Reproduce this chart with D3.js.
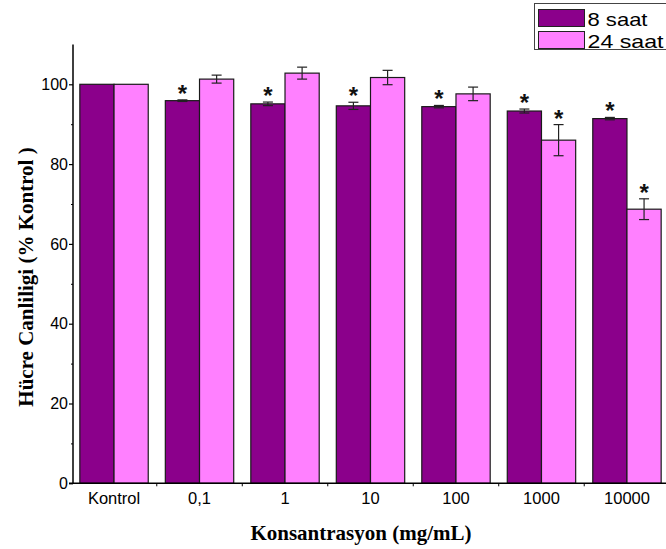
<!DOCTYPE html>
<html>
<head>
<meta charset="utf-8">
<script src="https://cdn.jsdelivr.net/npm/d3@7"></script>
<style>
  html, body { margin: 0; padding: 0; background: #fff; }
  svg { display: block; }
</style>
</head>
<body>
<svg id="chart" width="666" height="549"></svg>
<script>
const categories = ["Kontrol", "0,1", "1", "10", "100", "1000", "10000"];
const series = ["8 saat", "24 saat"];
const values8 = [100, 95.9, 95.1, 94.6, 94.4, 93.3, 91.4];
const errors8 = [0, 0.2, 0.45, 0.9, 0.3, 0.5, 0.3];
const values24 = [100, 101.3, 102.8, 101.7, 97.6, 86.0, 68.7];
const errors24 = [0, 1.0, 1.5, 1.8, 1.7, 3.9, 2.6];
const signif8 = [false, true, true, true, true, true, true];
const signif24 = [false, false, false, false, false, true, true];
const yTicks = [0, 20, 40, 60, 80, 100];
const yMinorTicks = [10, 30, 50, 70, 90];
const colors = ["#8B008B", "#FF80FF"];

const svg = d3.select("#chart");
const x0 = 73, x1 = 668, yTop = 110;
const x = d3.scaleBand().domain(categories).range([x0, x1]).paddingInner(0.2).paddingOuter(0.08);
const xs = d3.scaleBand().domain(series).range([0, x.bandwidth()]);
const y = d3.scaleLinear().domain([0, yTop]).range([483.3, 483.3 - 3.99 * yTop]);

const data = categories.map((c, i) => ({
  cat: c,
  bars: [
    { s: series[0], v: values8[i], e: errors8[i], sig: signif8[i], color: colors[0] },
    { s: series[1], v: values24[i], e: errors24[i], sig: signif24[i], color: colors[1] }
  ]
}));

const g = svg.append("g");
const groups = g.selectAll("g.grp").data(data).join("g")
  .attr("transform", d => `translate(${x(d.cat)},0)`);

groups.selectAll("rect").data(d => d.bars).join("rect")
  .attr("x", b => xs(b.s))
  .attr("y", b => y(b.v))
  .attr("width", xs.bandwidth())
  .attr("height", b => y(0) - y(b.v))
  .attr("fill", b => b.color)
  .attr("stroke", "#1a1a1a")
  .attr("stroke-width", 1.2);

// error bars
const eb = groups.selectAll("g.eb").data(d => d.bars.filter(b => b.e > 0)).join("g").attr("class", "eb");
const cap = 5;
eb.append("line")
  .attr("x1", b => xs(b.s) + xs.bandwidth() / 2).attr("x2", b => xs(b.s) + xs.bandwidth() / 2)
  .attr("y1", b => y(b.v + b.e)).attr("y2", b => y(b.v - b.e))
  .attr("stroke", "#222").attr("stroke-width", 1.2);
eb.append("line")
  .attr("x1", b => xs(b.s) + xs.bandwidth() / 2 - cap).attr("x2", b => xs(b.s) + xs.bandwidth() / 2 + cap)
  .attr("y1", b => y(b.v + b.e)).attr("y2", b => y(b.v + b.e))
  .attr("stroke", "#222").attr("stroke-width", 1.2);
eb.append("line")
  .attr("x1", b => xs(b.s) + xs.bandwidth() / 2 - cap).attr("x2", b => xs(b.s) + xs.bandwidth() / 2 + cap)
  .attr("y1", b => y(b.v - b.e)).attr("y2", b => y(b.v - b.e))
  .attr("stroke", "#222").attr("stroke-width", 1.2);

// significance asterisks
groups.selectAll("text.sig").data(d => d.bars.filter(b => b.sig)).join("text")
  .attr("class", "sig")
  .attr("x", b => xs(b.s) + xs.bandwidth() / 2)
  .attr("y", b => y(b.v + b.e) + 2)
  .attr("text-anchor", "middle")
  .attr("font-family", "Liberation Sans, Arial, sans-serif")
  .attr("font-weight", "bold")
  .attr("font-size", 24)
  .attr("fill", "#111")
  .text("*");

// Y axis
const yAxis = d3.axisLeft(y).tickValues(yTicks).tickSize(4).tickPadding(1).tickFormat(d3.format("d"));
const ya = svg.append("g").attr("transform", `translate(${x0},0)`).call(yAxis);
ya.select(".domain").attr("d", `M-4,${y(0)}H0V${y(yTop)}`).attr("stroke", "#000").attr("stroke-width", 1.5);
ya.selectAll(".tick line").attr("stroke", "#000").attr("stroke-width", 1.2);
ya.selectAll(".tick text").attr("font-family", "Liberation Sans, Arial, sans-serif").attr("font-size", 16).attr("fill", "#000");
const yMinor = d3.axisLeft(y).tickValues(yMinorTicks).tickSize(2).tickFormat("");
const ym = svg.append("g").attr("transform", `translate(${x0},0)`).call(yMinor);
ym.select(".domain").remove();
ym.selectAll(".tick line").attr("stroke", "#000");

// X axis
const xAxis = d3.axisBottom(x).tickSize(0).tickPadding(9);
const xa = svg.append("g").attr("transform", `translate(0,${y(0)})`).call(xAxis);
xa.select(".domain").attr("d", `M${x0},0H666`).attr("stroke", "#000").attr("stroke-width", 1.5);
xa.selectAll(".tick text").attr("font-family", "Liberation Sans, Arial, sans-serif").attr("font-size", 16.5).attr("fill", "#000");
// small separators between groups
const seps = categories.slice(1).map(c => x(c) - x.step() * x.paddingInner() / 2);
xa.selectAll("line.sep").data(seps).join("line").attr("class", "sep")
  .attr("x1", d => d).attr("x2", d => d).attr("y1", 0).attr("y2", 3)
  .attr("stroke", "#000");

// axis titles
svg.append("text")
  .attr("x", 361).attr("y", 540)
  .attr("text-anchor", "middle")
  .attr("font-family", "Liberation Serif, Times New Roman, serif")
  .attr("font-weight", "bold")
  .attr("font-size", 21)
  .text("Konsantrasyon (mg/mL)");
svg.append("text")
  .attr("transform", "translate(33,277) rotate(-90)")
  .attr("text-anchor", "middle")
  .attr("font-family", "Liberation Serif, Times New Roman, serif")
  .attr("font-weight", "bold")
  .attr("font-size", 21)
  .text("Hücre Canliligi (% Kontrol )");

// legend
const lg = svg.append("g");
lg.append("rect").attr("x", 534.5).attr("y", 3.5).attr("width", 140).attr("height", 46)
  .attr("fill", "#fff").attr("stroke", "#444").attr("stroke-width", 1);
const items = lg.selectAll("g.item").data(series).join("g").attr("class", "item")
  .attr("transform", (d, i) => `translate(538.5,${9.5 + i * 22})`);
items.append("rect").attr("width", 46).attr("height", 17)
  .attr("fill", (d, i) => colors[i]).attr("stroke", "#222").attr("stroke-width", 1);
items.append("text").attr("x", 49).attr("y", 16)
  .attr("font-family", "Liberation Sans, Arial, sans-serif").attr("font-size", 19)
  .attr("textLength", (d, i) => i === 0 ? 60 : 76).attr("lengthAdjust", "spacingAndGlyphs")
  .text(d => d);
</script>
</body>
</html>
